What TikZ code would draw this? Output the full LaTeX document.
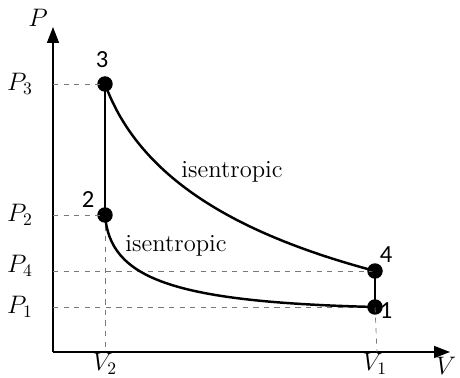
\documentclass[tikz,border=0pt]{standalone}
\usepackage{fontspec}
\usepackage{tikz}
\usetikzlibrary{arrows.meta,positioning,calc}
\newfontfamily\numfont{Carlito}
\definecolor{guide}{RGB}{120,120,120}
\tikzset{
  statept/.style={circle,fill=black,inner sep=0pt,minimum size=3.1mm},
  axisline/.style={-{Triangle[length=3.2mm,width=2.4mm]},line width=0.9pt},
  process/.style={line width=1.4pt},
  guideline/.style={dashed,draw=guide,thin},
  numlbl/.style={font=\numfont\fontsize{14}{16}\selectfont},
  proplbl/.style={font=\fontsize{14}{16}\selectfont},
}
\begin{document}
\begin{tikzpicture}[x=0.02cm,y=-0.02cm]
\useasboundingbox (0,0) rectangle (460,378);
% --- Axes ---
\coordinate (O) at (53,352);
\coordinate (ytip) at (53,27);
\coordinate (xtip) at (450,352);
\draw[axisline] (O) -- (ytip);
\draw[axisline] (O) -- (xtip);
\node[proplbl] (Plbl) at (38,18) {$P$};
\node[proplbl] (Vlbl) at (446,366) {$V$};

% --- States ---
\node[statept] (s3) at (105,84) {};
\node[statept] (s2) at (105,215) {};
\node[statept] (s4) at (375,271) {};
\node[statept] (s1) at (375,307) {};
\node[numlbl] (n3) at (102,60) {3};
\node[numlbl] (n2) at (88,200) {2};
\node[numlbl] (n4) at (386,255) {4};
\node[numlbl] (n1) at (386,311) {1};

% --- Guides ---
\coordinate (a3) at (53,84);
\coordinate (a2) at (53,215);
\coordinate (a4) at (53,271);
\coordinate (a1) at (53,307);
\coordinate (bV2) at (105,352);
\coordinate (bV1) at (377,352);
\draw[guideline] (a3) -- (s3.center);
\draw[guideline] (a2) -- (s2.center);
\draw[guideline] (a4) -- (s4.center);
\draw[guideline] (a1) -- (s1.center);
\draw[guideline] (s2.center) -- (bV2);
\draw[guideline] (s1.center) -- (bV1);
\node[proplbl] (P3) at (20,84) {$P_3$};
\node[proplbl] (P2) at (20,215) {$P_2$};
\node[proplbl] (P4) at (20,266) {$P_4$};
\node[proplbl] (P1) at (20,307) {$P_1$};
\node[proplbl] (V2) at (105,364) {$V_2$};
\node[proplbl] (V1) at (375,364) {$V_1$};

% --- Cycle ---
\draw[process] (s3.center) -- (s2.center);
\draw[process] (s4.center) -- (s1.center);
\draw[process] (s3.center) .. controls (140,180) and (240,235) .. (s4.center);
\draw[process] (s2.center) .. controls (110,278) and (170,302) .. (s1.center);
\node[proplbl] (isen1) at (232,172) {isentropic};
\node[proplbl] (isen2) at (176,246) {isentropic};
\end{tikzpicture}
\end{document}
